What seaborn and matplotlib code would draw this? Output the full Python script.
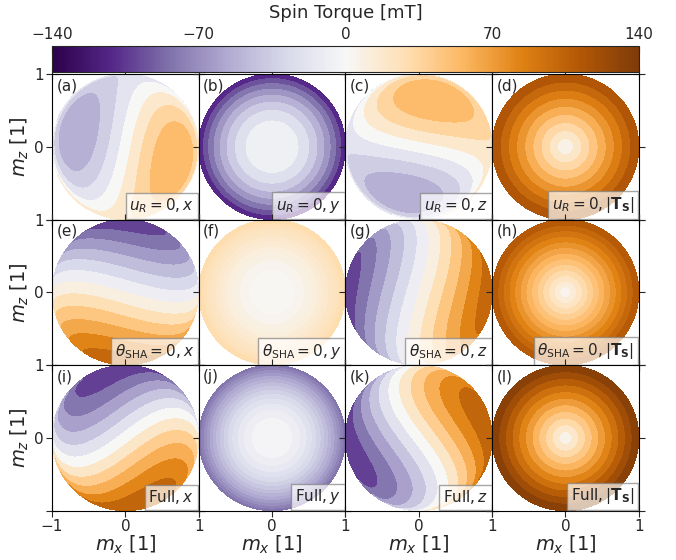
import numpy as np
import seaborn as sns
import matplotlib.pyplot as plt
from matplotlib.colors import Normalize
from matplotlib.cm import ScalarMappable

sns.set_style("ticks")
plt.rcParams['font.family'] = ['DejaVu Sans']
plt.rcParams['mathtext.fontset'] = 'dejavusans'

# amplitudes (mT): damping-like / field-like part per row
row_tex = [r'u_R = 0', r'\theta_\mathrm{SHA} = 0', r'\mathrm{Full}']
dl_amp = [118, -32, 85]
fl_amp = [24, 110, 112]
comp_tex = [r'x', r'y', r'z', r'|\mathbf{T_S}|']
panel_letters = ['(a)', '(b)', '(c)', '(d)',
                 '(e)', '(f)', '(g)', '(h)',
                 '(i)', '(j)', '(k)', '(l)']
n_bands = [[7, 8, 7, 9],
           [12, 10, 12, 13],
           [11, 14, 11, 11]]
cbar_ticks = [-140, -105, -70, -35, 0, 35, 70, 105, 140]
cbar_labels = ['−140', '', '−70', '', '0', '', '70', '', '140']
vmin, vmax = -140, 140

# unit sphere, front hemisphere, seen along y
r = np.linspace(0, 1, 200)
phi = np.linspace(0, 2 * np.pi, 361)
R, PHI = np.meshgrid(r, phi)
mx = R * np.cos(PHI)
mz = R * np.sin(PHI)
my = np.sqrt(np.clip(1 - mx**2 - mz**2, 0, None))


def torque(dl, fl):
    # dl * m x (m x y) + fl * m x y
    tx = dl * mx * my - fl * mz
    ty = dl * (my**2 - 1)
    tz = dl * mz * my + fl * mx
    return [tx, ty, tz, np.sqrt(tx**2 + ty**2 + tz**2)]


cmap = sns.color_palette("PuOr_r", as_cmap=True)
norm = Normalize(vmin=vmin, vmax=vmax)

fig, axes = plt.subplots(3, 4, figsize=(6.76, 5.6), dpi=100)
fig.subplots_adjust(left=0.077, right=0.945, top=0.868, bottom=0.088,
                    wspace=0, hspace=0)

for i in range(3):
    fields = torque(dl_amp[i], fl_amp[i])
    for j in range(4):
        ax = axes[i, j]
        f = fields[j]
        levels = np.linspace(f.min(), f.max() + 1e-9, n_bands[i][j] + 1)
        ax.contourf(mx, mz, f, levels=levels, cmap=cmap, norm=norm)
        ax.set_xlim(-1, 1)
        ax.set_ylim(-1, 1)
        ax.set_aspect('auto')
        ax.set_xticks([-1, 0, 1])
        ax.set_yticks([-1, 0, 1])
        ax.tick_params(direction='inout', length=8, width=0.8,
                       top=True, right=True, labelsize=11, pad=2)
        for s in ax.spines.values():
            s.set_color('black')
        if i == 2:
            ax.set_xticklabels(['−1' if j == 0 else '', '0', '1'])
            ax.set_xlabel(r'$m_x$ [1]', fontsize=14, labelpad=0)
        else:
            ax.set_xticklabels([])
        if j == 0:
            ax.set_yticklabels(['', '0', '1'])
            ax.set_ylabel(r'$m_z$ [1]', fontsize=14, labelpad=2)
        else:
            ax.set_yticklabels([])
        ax.text(0.03, 0.97, panel_letters[4 * i + j], transform=ax.transAxes,
                ha='left', va='top', fontsize=11)
        ax.text(0.97, 0.03, f'${row_tex[i]}, {comp_tex[j]}$',
                transform=ax.transAxes, ha='right', va='bottom', fontsize=11,
                bbox=dict(boxstyle='square,pad=0.25', facecolor='white',
                          alpha=0.7, edgecolor='grey', linewidth=1))

cax = fig.add_axes([0.077, 0.872, 0.868, 0.046])
cb = fig.colorbar(ScalarMappable(norm=norm, cmap=cmap), cax=cax,
                  orientation='horizontal')
cax.xaxis.set_ticks_position('top')
cax.xaxis.set_label_position('top')
cb.set_ticks(cbar_ticks)
cb.set_ticklabels(cbar_labels)
cax.tick_params(direction='in', length=5, labelsize=11, pad=3)
cb.set_label('Spin Torque [mT]', fontsize=13, labelpad=6)
cb.outline.set_linewidth(0.8)

fig.savefig('out.png', dpi=100)
